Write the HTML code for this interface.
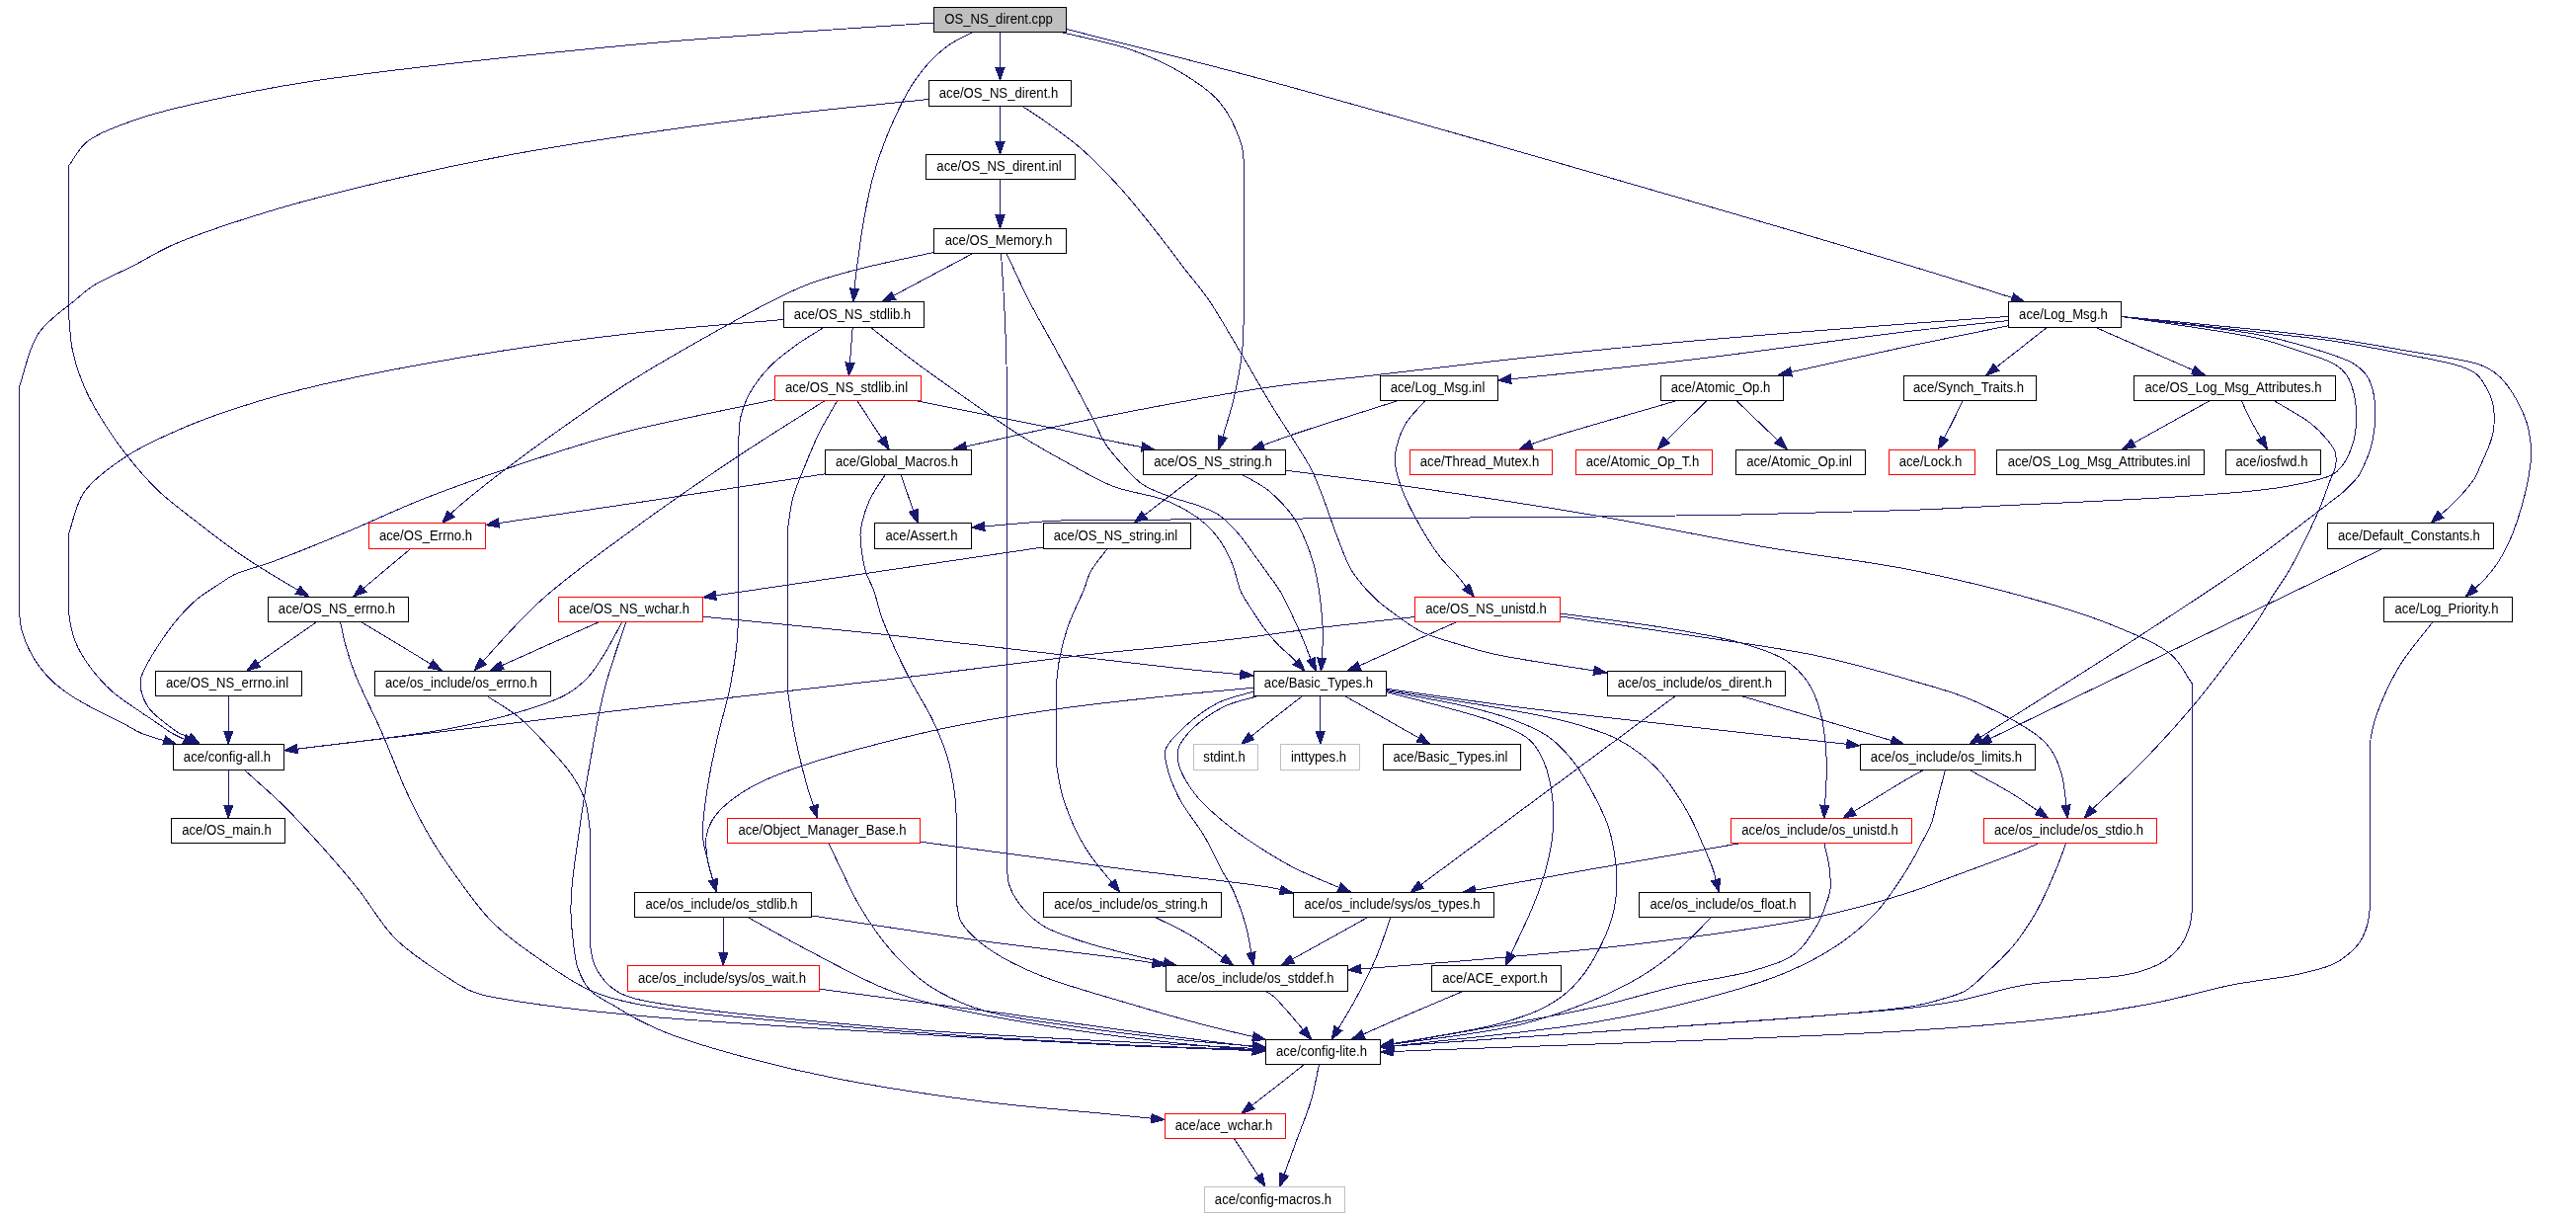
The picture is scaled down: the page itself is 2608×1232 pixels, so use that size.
<!DOCTYPE html><html><head><meta charset="utf-8"><title>OS_NS_dirent.cpp include graph</title><style>html,body{margin:0;padding:0;background:#fff}svg{display:block;will-change:transform}text{font-family:"Liberation Sans",sans-serif;font-size:14.3px;fill:#000;text-anchor:middle}</style></head><body>
<svg width="2608" height="1232" viewBox="0 0 2608 1232">
<rect width="2608" height="1232" fill="#fff"/>
<g fill="none" stroke="#191970" stroke-width="1" shape-rendering="crispEdges">
<path d="M945.0,23.0C844.7,30.3 746.3,35.5 644.0,45.0C537.3,54.9 394.3,70.6 317.5,82.0C275.3,88.3 250.7,93.3 220.0,100.0C192.2,106.1 164.4,111.9 141.0,120.0C121.2,126.9 100.4,133.9 88.0,143.7C79.0,150.8 75.7,159.9 69.5,168.0L69.5,319.0C70.9,331.5 70.9,344.0 73.8,356.5C76.7,369.8 81.8,383.9 87.5,396.5C93.1,408.8 100.4,420.4 107.5,431.5C114.2,442.1 120.7,451.3 128.8,461.5C137.9,473.0 148.5,485.5 160.0,496.5C172.1,508.0 186.6,518.5 200.0,529.0C213.2,539.3 227.0,549.9 240.0,559.0C251.9,567.3 263.0,574.1 275.0,581.5C287.3,589.1 300.3,596.5 313.0,604.0"/>
<path d="M1012.5,32.5L1012.5,81.5"/>
<path d="M985.0,32.5C977.2,36.7 968.8,40.0 961.5,45.0C954.3,50.0 947.7,56.0 941.5,62.5C935.1,69.3 929.0,77.5 924.0,85.0C919.5,91.7 916.5,97.6 912.7,105.0C908.2,113.9 903.4,124.2 899.0,135.0C894.1,147.3 888.9,161.2 885.0,175.0C880.9,189.4 877.7,205.4 875.0,220.0C872.5,233.7 870.7,247.3 869.0,260.0C867.4,271.4 865.8,284.1 865.0,292.5C864.5,297.8 864.3,301.2 864.0,305.5"/>
<path d="M1074.0,32.5C1097.3,38.3 1122.9,42.7 1144.0,50.0C1162.4,56.4 1178.7,63.5 1194.0,72.5C1208.6,81.1 1223.5,90.3 1234.0,102.5C1244.3,114.5 1252.6,133.2 1256.5,145.0C1259.0,152.7 1258.5,158.3 1259.5,165.0L1259.5,304.0C1258.9,320.7 1259.5,337.4 1257.8,354.0C1256.0,370.7 1252.9,387.4 1249.0,404.0C1245.0,421.0 1239.0,438.0 1234.0,455.0"/>
<path d="M1079.8,29.5C1149.2,47.3 1199.7,59.0 1288.0,83.0C1443.9,125.5 1803.4,229.8 1932.0,268.5C1987.2,285.1 2010.7,293.2 2050.0,305.5"/>
<path d="M940.0,100.5C891.3,105.7 843.0,110.1 794.0,116.0C744.3,122.0 692.1,128.9 644.0,136.0C599.3,142.6 556.7,149.3 515.0,157.0C475.5,164.3 438.7,172.0 400.0,181.0C360.1,190.3 317.5,200.5 279.0,212.0C243.1,222.8 202.2,236.2 176.0,247.5C158.9,254.9 148.7,262.0 135.0,269.0C121.4,276.0 104.6,282.7 94.0,289.5C86.5,294.3 83.0,298.0 76.0,304.0C65.7,312.8 48.1,323.8 38.8,337.8C28.8,352.6 25.9,373.6 19.5,391.5L19.4,618.8C20.2,625.0 20.4,631.3 21.9,637.5C23.5,643.8 25.8,650.1 28.8,656.2C31.8,662.6 35.5,669.1 40.0,675.0C44.7,681.2 50.4,687.3 56.2,692.5C62.1,697.7 68.1,701.9 75.0,706.2C82.6,711.1 91.6,715.6 100.0,720.0C108.3,724.4 117.4,728.6 125.0,732.5C131.4,735.8 135.4,739.0 142.5,742.0C152.2,746.1 166.7,749.7 178.8,753.5"/>
<path d="M1012.5,107.5L1012.5,156.5"/>
<path d="M1035.0,107.5C1041.3,111.7 1046.6,114.8 1054.0,120.0C1065.0,127.7 1081.1,138.8 1094.0,150.0C1107.8,161.9 1121.4,176.1 1134.0,190.0C1146.4,203.7 1157.7,218.2 1169.0,232.5C1180.2,246.6 1191.6,262.2 1201.5,275.0C1209.7,285.6 1215.1,290.9 1224.0,304.0C1240.5,328.2 1273.0,387.2 1288.0,411.5C1295.8,424.1 1300.0,430.0 1306.2,440.0C1313.1,451.0 1321.7,463.6 1327.5,475.0C1332.7,485.2 1336.0,494.6 1340.0,505.0C1344.3,516.2 1348.2,528.7 1352.5,540.0C1356.6,550.8 1361.6,564.1 1365.0,571.2C1366.9,575.2 1367.5,576.4 1370.0,580.0C1374.6,586.6 1384.6,598.7 1392.5,606.2C1399.7,613.1 1407.2,618.2 1415.0,623.8C1423.0,629.4 1430.5,635.4 1440.0,640.0C1450.9,645.3 1465.1,648.7 1477.5,652.5C1489.4,656.1 1497.7,658.9 1513.0,662.2C1540.1,668.2 1588.8,674.8 1626.8,681.0"/>
<path d="M1012.5,182.0L1012.5,231.0"/>
<path d="M945.0,255.5C919.7,261.2 891.6,266.6 869.0,272.5C850.5,277.3 834.2,281.8 819.0,287.5C805.8,292.5 798.5,296.0 782.8,304.0C751.2,320.1 681.9,359.1 644.0,382.5C616.6,399.4 598.3,412.6 575.0,429.0C550.4,446.3 521.3,467.5 500.0,484.0C483.6,496.7 466.6,510.4 457.5,519.0C452.8,523.5 450.8,526.3 447.5,530.0"/>
<path d="M985.0,256.5L893.0,305.5"/>
<path d="M1013.5,256.5C1014.5,272.3 1015.6,286.9 1016.5,304.0C1017.5,324.0 1018.5,346.6 1019.0,369.0C1019.5,393.1 1019.3,419.0 1019.5,444.0L1019.5,858.5C1020.2,870.7 1018.5,884.6 1021.5,895.0C1024.0,903.7 1028.5,910.6 1034.0,917.5C1039.9,924.9 1047.5,931.9 1056.5,937.5C1067.0,944.0 1080.5,947.9 1094.0,952.5C1109.3,957.7 1127.5,962.0 1144.0,966.2C1160.0,970.3 1175.7,973.8 1191.5,977.5"/>
<path d="M1019.0,256.5C1026.5,272.3 1033.4,288.1 1041.5,304.0C1050.0,320.6 1059.2,335.9 1069.0,354.0C1080.6,375.3 1097.4,406.5 1106.5,424.0C1111.9,434.4 1114.2,441.5 1119.0,449.0C1123.4,455.9 1128.1,461.2 1133.8,467.5C1140.3,474.8 1147.8,484.1 1156.2,490.0C1164.5,495.7 1174.2,498.8 1183.8,502.5C1193.7,506.3 1206.0,509.0 1215.0,512.5C1222.1,515.3 1227.8,517.2 1233.8,521.2C1240.4,525.7 1246.5,532.1 1252.5,538.8C1259.1,546.1 1265.8,556.3 1271.2,563.8C1275.7,569.7 1279.0,574.4 1283.0,580.0C1287.3,586.0 1292.2,592.1 1296.2,598.8C1300.4,605.8 1303.8,613.5 1307.5,621.2C1311.3,629.3 1315.5,638.5 1318.8,646.2C1321.6,652.9 1323.8,659.2 1326.2,665.0C1328.4,670.1 1330.4,674.6 1332.5,679.4"/>
<path d="M793.2,323.5C743.5,328.0 693.2,331.4 644.0,337.0C595.5,342.5 548.4,348.8 500.0,356.5C450.4,364.4 392.5,374.8 350.0,384.0C318.3,390.8 294.2,396.6 267.5,404.5C241.7,412.1 216.2,420.4 192.5,430.2C170.1,439.6 147.4,449.3 128.8,461.5C112.0,472.4 94.9,484.3 85.0,498.5C76.2,511.0 74.7,526.3 69.5,540.2L69.4,618.8C70.2,624.2 70.6,629.5 71.9,635.0C73.3,640.8 75.0,646.8 77.5,652.5C80.1,658.5 83.8,664.4 87.5,670.0C91.3,675.7 95.5,681.1 100.0,686.2C104.6,691.5 109.3,696.4 115.0,701.2C121.5,706.8 130.3,712.5 137.5,717.5C144.0,722.0 150.1,725.9 156.2,730.0C162.2,734.0 168.2,738.7 173.8,742.0C178.5,744.8 183.1,746.8 187.5,748.8C191.5,750.5 195.2,751.9 199.0,753.5"/>
<path d="M834.0,331.5C824.8,337.3 815.5,342.5 806.5,349.0C797.1,355.8 786.9,363.3 779.0,371.5C771.6,379.2 764.9,387.8 760.0,396.5C755.4,404.5 752.0,413.2 750.0,421.5C748.1,429.1 748.5,436.5 747.8,444.0L747.2,600.0C747.0,615.3 747.8,630.4 746.5,646.0C745.1,662.4 742.3,679.4 739.0,696.0C735.7,712.7 730.3,729.3 726.5,746.0C722.8,762.6 719.0,779.3 716.5,796.0C714.0,812.6 710.8,832.2 711.5,846.0C712.0,855.8 714.4,862.2 716.5,871.0C718.9,881.2 722.5,892.7 725.5,903.5"/>
<path d="M863.2,331.5L859.5,380.5"/>
<path d="M881.5,331.5C896.5,343.2 910.8,354.8 926.5,366.5C943.2,379.0 961.2,391.6 979.0,404.0C997.1,416.6 1016.1,430.3 1034.0,441.5C1050.2,451.7 1065.7,460.4 1081.5,469.0C1096.8,477.4 1111.5,486.4 1127.5,492.5C1143.5,498.6 1163.9,500.6 1177.5,505.6C1187.5,509.2 1195.0,513.0 1202.5,517.5C1209.4,521.6 1215.6,526.0 1221.2,531.2C1226.9,536.4 1232.0,542.6 1236.2,548.8C1240.3,554.7 1243.8,561.8 1246.2,567.5C1248.2,572.0 1249.1,575.4 1250.6,580.0C1252.4,585.6 1253.6,592.7 1256.2,598.8C1259.1,605.2 1263.6,611.3 1267.5,617.5C1271.5,623.8 1275.6,630.3 1280.0,636.2C1284.3,642.0 1288.9,647.5 1293.8,652.5C1298.5,657.4 1304.1,661.6 1308.8,666.2C1313.2,670.6 1317.1,675.0 1321.2,679.4"/>
<path d="M784.5,404.5C737.7,414.5 677.5,426.4 644.0,434.5C625.1,439.1 617.6,441.3 600.0,446.5C573.3,454.5 530.8,468.3 500.0,479.0C473.1,488.3 449.9,496.6 425.0,506.5C399.9,516.5 375.1,528.6 350.0,539.0C325.1,549.4 295.8,561.4 275.0,569.0C260.4,574.3 246.7,577.2 237.5,581.5C231.6,584.3 228.9,586.6 223.8,590.0C216.9,594.5 207.2,600.3 200.0,606.2C193.1,612.0 187.3,618.1 181.2,625.0C174.7,632.5 168.2,641.5 162.5,650.0C157.0,658.2 151.0,668.0 147.5,675.0C145.1,679.8 143.2,683.3 142.5,687.5C141.8,691.6 142.0,695.6 143.1,700.0C144.4,705.5 147.5,712.3 151.2,717.5C155.1,722.8 161.1,727.1 166.2,731.2C171.1,735.2 176.8,739.5 181.2,742.0C184.4,743.8 186.9,744.0 190.0,745.6C193.9,747.6 198.3,750.9 202.5,753.5"/>
<path d="M835.2,405.5C804.8,425.0 774.9,443.4 744.0,464.0C711.2,485.9 676.7,509.5 644.0,533.5C611.2,557.5 575.9,582.3 547.5,608.0C522.0,631.0 502.5,655.3 480.0,679.0"/>
<path d="M847.8,405.5C841.5,416.7 834.6,427.6 829.0,439.0C823.4,450.4 818.5,462.7 814.0,474.0C809.8,484.3 805.6,493.5 802.8,504.0C799.8,515.1 798.9,527.3 797.0,539.0L797.0,696.0C799.3,711.0 801.0,725.5 804.0,741.0C807.3,757.9 812.1,777.8 816.5,793.5C820.1,806.4 824.0,816.8 827.8,828.5"/>
<path d="M867.8,405.5L900.2,455.2"/>
<path d="M926.5,405.5C957.3,411.7 992.9,418.8 1019.0,424.0C1038.2,427.8 1052.4,430.5 1069.0,434.0C1085.7,437.5 1102.3,441.7 1119.0,445.2C1135.6,448.8 1152.3,451.9 1169.0,455.2"/>
<path d="M2033.3,320.4C1999.5,322.8 1972.2,324.6 1932.0,327.7C1872.9,332.2 1781.9,339.0 1713.0,345.2C1651.4,350.8 1594.1,356.7 1538.0,362.8C1486.0,368.4 1433.0,375.1 1388.0,380.2C1351.3,384.5 1325.6,386.1 1288.0,391.5C1238.9,398.6 1173.9,410.7 1119.0,421.5C1066.4,431.8 1016.5,443.7 965.2,454.8"/>
<path d="M2033.3,324.6C1999.5,328.2 1972.2,330.7 1932.0,335.5C1872.9,342.5 1784.1,355.5 1713.0,364.0C1645.8,372.0 1582.0,378.2 1516.5,385.2"/>
<path d="M2033.3,329.8C1999.5,336.7 1967.9,342.9 1932.0,350.5C1891.0,359.2 1844.3,369.8 1800.5,379.5"/>
<path d="M2072.4,331.4L2010.7,380.0"/>
<path d="M2121.5,331.4L2232.5,380.0"/>
<path d="M2147.7,320.4C2193.8,327.8 2254.6,335.3 2286.0,342.5C2302.6,346.3 2310.8,349.4 2323.5,353.8C2337.0,358.3 2355.7,363.7 2364.8,369.4C2370.1,372.8 2373.1,375.8 2376.0,380.0C2379.0,384.3 2380.7,389.6 2382.2,395.0C2383.9,400.8 2384.9,407.7 2385.4,413.8C2385.9,419.3 2385.9,424.4 2385.4,430.0C2384.9,436.0 2384.3,442.3 2382.2,448.8C2379.9,456.2 2375.3,466.4 2371.0,472.0C2367.9,476.0 2365.8,478.2 2361.0,480.8C2352.8,485.1 2336.1,488.1 2323.5,490.8C2311.1,493.3 2301.3,494.7 2286.0,496.4C2262.2,499.1 2229.1,501.3 2194.4,503.5C2149.0,506.4 2084.2,509.1 2037.0,511.4C1998.5,513.3 1972.3,515.0 1932.0,516.5C1877.2,518.5 1806.8,520.3 1738.0,521.5C1659.9,522.9 1566.7,523.4 1488.0,524.0C1417.6,524.6 1347.1,524.8 1288.0,525.2C1240.9,525.6 1199.9,525.9 1161.0,526.2C1127.9,526.6 1099.1,525.9 1069.0,527.2C1040.0,528.6 1012.0,531.8 983.5,534.0"/>
<path d="M2147.7,320.4C2193.8,326.5 2251.5,332.2 2286.0,338.8C2307.0,342.7 2319.8,346.4 2336.0,351.2C2351.7,356.0 2371.0,361.3 2381.6,367.5C2388.2,371.4 2392.5,375.2 2396.0,380.0C2399.2,384.4 2400.8,389.6 2402.2,395.0C2403.8,400.8 2404.4,407.5 2404.8,413.8C2405.1,420.0 2404.8,426.0 2404.1,432.5C2403.3,439.7 2401.8,448.1 2399.8,455.0C2397.9,461.2 2395.0,467.3 2392.9,472.0C2391.3,475.4 2390.7,477.6 2388.5,480.8C2385.2,485.5 2378.9,492.0 2373.5,497.0C2368.1,502.0 2362.7,505.5 2356.0,510.8C2346.8,517.9 2334.7,527.2 2323.5,535.8C2311.5,544.9 2302.3,552.3 2286.0,563.9C2257.0,584.4 2207.4,617.1 2163.0,646.0C2111.2,679.7 2050.1,717.7 1993.7,753.5"/>
<path d="M2147.7,320.4C2193.8,325.7 2246.9,331.7 2286.0,336.2C2314.8,339.6 2336.1,341.3 2361.0,345.0C2386.1,348.8 2412.8,354.1 2436.0,358.8C2456.1,362.8 2479.7,366.8 2492.2,371.2C2499.0,373.7 2502.9,374.9 2507.2,378.8C2512.3,383.2 2516.9,391.7 2519.8,397.5C2522.0,401.9 2523.2,405.3 2524.1,410.0C2525.2,415.8 2525.4,423.8 2525.0,430.0C2524.6,435.4 2523.9,439.4 2522.2,445.0C2519.9,452.8 2514.0,465.0 2511.0,472.0C2509.0,476.6 2508.4,479.2 2506.0,483.2C2502.8,488.6 2496.9,495.5 2492.2,500.8C2488.1,505.4 2484.4,508.9 2479.8,513.2C2474.2,518.4 2467.2,524.1 2461.0,529.5"/>
<path d="M2147.7,320.4C2193.8,324.8 2246.9,329.6 2286.0,333.8C2314.8,336.8 2336.0,339.0 2361.0,342.5C2386.0,346.0 2411.0,350.5 2436.0,355.0C2461.0,359.5 2495.0,363.5 2511.0,369.4C2519.2,372.4 2523.2,375.0 2528.5,379.4C2534.2,384.2 2538.9,390.3 2543.5,397.5C2549.1,406.2 2555.6,419.9 2558.5,428.8C2560.5,434.9 2560.9,439.9 2561.6,445.0C2562.3,449.4 2562.9,453.2 2562.9,457.5C2562.9,462.2 2562.3,466.9 2561.6,472.0C2560.9,477.9 2560.0,483.9 2558.5,490.8C2556.7,499.4 2553.9,510.1 2551.0,519.5C2548.1,528.8 2544.8,538.5 2541.0,547.0C2537.6,554.7 2533.9,561.8 2529.8,568.2C2525.9,574.2 2522.2,579.0 2517.2,584.5C2511.3,591.1 2503.1,597.8 2496.0,604.5"/>
<path d="M1415.5,405.5C1379.7,417.1 1335.4,430.8 1308.0,440.2C1290.9,446.1 1280.3,450.3 1266.5,455.4"/>
<path d="M1443.0,405.5C1436.3,413.3 1427.9,420.8 1423.0,429.0C1418.7,436.2 1416.0,444.7 1414.2,451.5C1412.9,456.9 1412.0,460.9 1412.2,466.5C1412.6,473.8 1415.0,482.8 1418.0,491.5C1421.5,501.8 1426.9,512.8 1433.0,524.0C1439.9,536.9 1450.3,553.9 1458.0,564.0C1463.3,570.9 1467.8,574.0 1473.0,580.0C1479.2,587.2 1486.0,596.3 1492.5,604.4"/>
<path d="M1698.0,405.5C1653.0,418.8 1590.0,436.2 1563.0,445.2C1551.2,449.2 1546.3,451.6 1538.0,454.8"/>
<path d="M1728.0,405.5L1678.0,454.8"/>
<path d="M1758.0,405.5L1809.2,454.8"/>
<path d="M1987.1,405.4C1983.6,412.7 1980.5,419.7 1976.6,427.4C1972.2,436.1 1967.0,445.8 1962.2,455.0"/>
<path d="M2237.7,405.4L2148.5,455.0"/>
<path d="M2269.2,405.4C2272.3,411.9 2274.7,417.7 2278.4,424.8C2283.1,433.8 2289.8,444.9 2295.5,455.0"/>
<path d="M2302.2,405.6C2314.8,413.3 2330.2,421.2 2339.8,428.8C2346.7,434.2 2351.7,439.7 2356.0,445.0C2359.4,449.3 2362.7,453.0 2364.1,457.5C2365.5,462.0 2365.3,467.4 2364.5,472.0C2363.8,476.4 2361.7,479.4 2359.8,484.5C2356.8,492.3 2352.5,504.8 2348.5,514.5C2344.6,523.9 2340.7,532.3 2336.0,542.0C2330.5,553.3 2323.8,567.0 2317.2,578.2C2311.2,588.5 2303.7,598.6 2298.5,607.0C2294.6,613.4 2292.3,618.0 2288.5,624.0C2284.0,630.9 2279.9,636.7 2273.1,646.0C2260.9,662.6 2238.6,692.8 2220.7,714.2C2203.6,734.6 2186.0,753.8 2168.2,772.0C2151.0,789.6 2124.3,812.8 2115.7,821.8C2112.7,825.0 2111.9,826.3 2110.0,828.5"/>
<path d="M835.2,479.8C771.5,489.5 704.1,500.0 644.0,509.0C590.4,517.1 542.5,524.0 491.8,531.5"/>
<path d="M896.5,480.2C891.5,488.2 885.5,495.7 881.5,504.0C877.6,512.0 874.4,522.0 872.8,529.0C871.6,533.8 871.0,536.2 871.0,541.5C871.0,550.7 873.6,569.1 876.5,579.0C878.5,585.9 881.5,589.3 884.0,596.0C887.4,605.0 889.4,616.4 894.0,628.5C900.1,644.6 910.3,666.3 919.0,683.5C927.0,699.4 937.1,714.0 944.0,728.5C950.1,741.4 955.2,753.3 959.0,766.0C962.7,778.3 964.8,790.5 966.5,803.5C968.3,817.2 968.2,831.8 969.0,846.0L968.5,915.0C969.9,920.8 969.9,926.9 972.8,932.5C976.1,939.1 982.6,945.5 989.0,951.2C996.1,957.7 1004.3,963.1 1014.0,968.8C1026.0,975.7 1039.5,982.1 1056.5,988.8C1080.2,998.0 1115.9,1007.9 1144.0,1016.2C1169.9,1024.0 1195.1,1031.2 1219.0,1037.5C1240.7,1043.2 1260.7,1047.5 1281.5,1052.5"/>
<path d="M912.0,480.2L929.0,529.5"/>
<path d="M1212.5,480.4L1148.1,529.4"/>
<path d="M1257.5,480.4C1266.2,485.7 1275.5,489.6 1283.8,496.2C1292.7,503.4 1302.3,513.5 1308.8,522.5C1314.3,530.2 1317.7,538.1 1321.2,546.2C1324.8,554.3 1327.6,562.6 1330.0,571.2C1332.4,580.1 1334.2,590.0 1335.6,598.8C1336.8,606.6 1337.5,613.8 1338.1,621.2C1338.7,628.4 1339.4,634.4 1339.4,642.5C1339.5,653.1 1338.1,667.1 1337.5,679.4"/>
<path d="M1301.6,476.2C1338.4,481.0 1369.8,484.6 1412.0,490.6C1469.1,498.7 1548.4,510.5 1613.0,521.5C1673.4,531.8 1732.4,544.5 1788.0,554.0C1838.3,562.6 1885.3,567.2 1932.0,576.4C1976.9,585.3 2025.2,597.0 2063.2,607.9C2093.0,616.4 2118.2,624.3 2141.9,634.2C2162.6,642.9 2185.0,651.5 2198.4,663.0C2208.4,671.6 2212.3,682.3 2219.3,691.9L2219.9,917.0C2218.8,924.0 2218.7,931.3 2216.7,938.0C2214.6,944.8 2211.4,952.0 2207.5,957.6C2203.9,962.8 2199.6,967.0 2194.4,970.8C2188.5,975.1 2180.8,978.6 2173.4,981.3C2165.9,984.1 2160.5,985.4 2149.8,987.3C2128.1,991.1 2079.7,992.0 2050.1,997.0C2025.8,1001.1 2005.2,1008.7 1984.5,1012.7C1966.1,1016.3 1958.7,1017.6 1932.0,1020.6C1847.1,1030.1 1575.7,1046.9 1397.5,1060.0"/>
<path d="M416.2,555.2L357.5,604.2"/>
<path d="M1056.0,554.0C961.2,568.0 831.2,587.2 771.5,596.0C744.1,600.0 731.5,601.8 711.5,604.8"/>
<path d="M1121.2,555.2C1115.5,563.2 1108.0,571.5 1104.0,579.0C1100.8,584.9 1100.4,589.3 1097.8,596.0C1093.7,606.1 1085.8,621.3 1081.5,633.5C1077.6,644.6 1074.8,655.3 1072.8,666.0C1070.8,676.1 1070.2,686.0 1069.0,696.0L1069.0,771.0C1071.5,783.5 1072.3,795.4 1076.5,808.5C1081.5,824.2 1089.5,842.8 1099.0,858.5C1108.6,874.5 1122.3,888.5 1134.0,903.5"/>
<path d="M2412.2,555.5L2002.9,753.5"/>
<path d="M321.2,629.2L250.0,679.0"/>
<path d="M344.5,629.2C346.3,637.3 347.6,645.0 350.0,653.5C352.7,663.0 355.4,671.9 360.0,683.5C366.6,700.2 378.7,723.4 387.5,743.5C396.2,763.4 403.7,784.8 412.5,803.5C420.5,820.4 428.0,835.3 437.5,851.0C447.5,867.5 460.1,885.2 471.2,900.0C480.9,912.9 487.9,923.4 500.0,935.0C515.2,949.7 539.7,966.8 557.5,978.8C571.7,988.4 583.3,996.3 597.5,1002.5C612.0,1008.9 622.1,1011.9 644.0,1016.2C694.0,1026.2 810.6,1035.5 894.0,1042.5C977.3,1049.4 1073.0,1054.5 1144.0,1058.0C1196.6,1060.6 1235.7,1061.3 1281.5,1063.0"/>
<path d="M365.0,629.2L447.5,679.0"/>
<path d="M607.5,629.2L496.2,679.0"/>
<path d="M630.0,629.2C624.2,639.8 618.6,651.2 612.5,661.0C606.9,670.0 601.8,678.8 595.0,686.0C588.4,692.9 581.9,698.3 572.5,703.5C560.0,710.4 542.8,715.7 525.0,721.0C503.0,727.6 479.9,733.1 450.0,738.5C406.4,746.4 341.8,752.7 287.8,759.8"/>
<path d="M633.8,629.2C626.7,651.5 618.5,672.9 612.5,696.0C606.3,720.1 601.8,747.1 597.5,771.0C593.6,792.7 590.6,812.3 587.5,833.5C584.3,855.3 580.1,883.1 578.8,900.0C577.9,910.3 577.8,916.7 578.0,925.0C578.2,933.3 578.9,941.3 580.0,950.0C581.2,959.6 581.8,971.0 585.0,980.0C587.9,988.3 591.5,996.1 597.5,1002.5C604.3,1009.7 616.6,1014.9 625.0,1020.0C631.9,1024.2 636.7,1027.4 644.0,1031.2C653.3,1036.1 663.5,1041.2 676.5,1046.2C694.8,1053.3 719.2,1060.6 744.0,1067.5C773.9,1075.8 807.1,1084.0 844.0,1091.2C888.8,1100.1 946.2,1108.8 994.0,1115.0C1037.5,1120.6 1084.9,1124.1 1119.0,1127.5C1142.6,1129.9 1159.0,1131.5 1179.0,1133.5"/>
<path d="M711.5,624.2C772.3,630.2 833.8,635.8 894.0,642.2C953.0,648.5 1016.0,656.2 1069.0,662.2C1113.0,667.3 1153.9,672.4 1190.0,676.2C1219.1,679.4 1242.7,681.4 1269.0,684.0"/>
<path d="M1432.5,624.5C1401.7,628.0 1369.2,631.4 1340.0,635.0C1313.7,638.2 1290.0,641.9 1265.0,645.0C1240.0,648.1 1216.6,650.9 1190.0,653.8C1160.0,657.0 1131.8,659.2 1094.0,663.5C1039.4,669.7 964.4,680.1 894.0,688.5C815.3,697.9 734.7,706.6 644.0,717.2C535.7,729.9 406.5,745.6 287.8,759.8"/>
<path d="M1475.0,629.5L1364.0,679.4"/>
<path d="M1579.8,621.0C1615.8,626.0 1655.3,630.5 1688.0,636.0C1715.4,640.6 1741.4,644.7 1763.0,651.0C1780.2,656.0 1796.2,660.8 1808.0,668.5C1817.6,674.8 1824.7,682.3 1830.5,691.0C1836.4,699.8 1839.9,709.5 1843.0,721.0C1846.8,735.3 1848.6,753.7 1849.2,771.0C1850.0,789.5 1847.6,809.3 1846.8,828.5"/>
<path d="M1579.8,624.0C1624.2,630.5 1669.3,636.8 1713.0,643.5C1755.4,650.0 1799.5,655.4 1838.0,663.5C1871.7,670.6 1903.3,679.6 1932.0,688.0C1956.7,695.2 1977.8,700.2 2000.2,710.3C2024.2,721.2 2056.9,737.2 2071.1,752.2C2080.2,761.8 2083.1,770.9 2086.8,782.4C2091.1,795.8 2091.2,813.1 2093.4,828.5"/>
<path d="M2463.4,629.2C2452.5,643.5 2439.8,657.5 2430.6,672.2C2422.1,685.9 2414.8,701.0 2409.6,714.2C2405.3,725.2 2402.1,735.9 2400.4,745.7C2399.0,754.0 2399.5,761.4 2399.1,769.3L2399.6,917.0C2398.7,923.1 2398.6,929.4 2397.0,935.3C2395.4,941.2 2393.1,947.3 2389.9,952.4C2386.8,957.4 2382.6,961.6 2378.1,965.5C2373.5,969.5 2369.0,972.9 2362.4,976.0C2353.0,980.4 2339.7,983.4 2325.6,986.5C2307.0,990.6 2282.8,992.5 2260.0,997.0C2234.9,1001.9 2208.6,1010.1 2181.3,1015.4C2152.0,1021.1 2124.3,1025.6 2089.5,1029.8C2044.1,1035.3 2000.1,1039.2 1932.0,1043.5C1806.7,1051.5 1575.7,1057.8 1397.5,1065.0"/>
<path d="M231.2,704.5L231.2,753.5"/>
<path d="M492.5,704.2C503.3,711.5 514.8,717.6 525.0,726.0C535.7,734.8 545.7,745.8 555.0,756.0C564.0,765.8 573.5,776.1 580.0,786.0C585.5,794.4 589.6,802.1 592.5,811.0C595.5,820.3 595.8,831.0 597.5,841.0L597.5,957.5C598.8,963.3 599.3,969.6 601.2,975.0C603.1,980.0 605.4,984.4 608.8,988.8C612.6,993.8 618.0,999.3 623.8,1003.0C629.7,1006.8 633.2,1008.5 644.0,1011.2C680.7,1020.6 801.4,1032.1 894.0,1040.0C1008.9,1049.9 1152.3,1054.7 1281.5,1062.0"/>
<path d="M1269.4,696.2C1242.9,698.8 1219.2,700.6 1190.0,703.8C1153.9,707.6 1109.6,712.1 1069.0,718.0C1027.6,724.0 987.0,730.1 944.0,739.8C897.2,750.2 833.8,766.8 799.0,779.8C778.4,787.4 764.7,793.6 751.5,802.2C740.5,809.4 730.1,817.7 724.0,826.0C719.3,832.4 716.6,838.8 715.2,846.0C713.8,853.7 715.1,862.2 716.5,871.0C718.1,881.2 722.5,892.7 725.5,903.5"/>
<path d="M1269.4,700.0C1257.5,703.8 1245.1,705.6 1233.8,711.2C1221.6,717.3 1208.4,727.3 1199.0,736.0C1191.2,743.2 1182.7,751.0 1180.2,758.5C1178.4,764.3 1180.0,769.4 1181.5,776.0C1183.6,785.3 1188.4,797.6 1194.0,808.5C1200.4,820.9 1211.7,833.6 1219.0,846.0C1225.7,857.4 1231.1,869.9 1236.5,880.0C1240.9,888.3 1245.2,894.0 1249.0,902.5C1253.6,912.7 1258.2,925.3 1261.5,937.5C1265.0,950.3 1266.5,964.2 1269.0,977.5"/>
<path d="M1271.9,705.0C1261.3,708.3 1250.4,709.9 1240.0,715.0C1228.5,720.7 1214.7,730.2 1206.5,738.5C1200.2,744.9 1194.6,751.7 1192.8,758.5C1191.2,764.3 1192.0,769.6 1194.0,776.0C1196.8,785.0 1203.9,796.5 1211.5,806.0C1220.1,816.7 1232.0,826.4 1244.0,836.0C1257.2,846.5 1275.2,858.1 1288.0,866.0C1297.4,871.8 1302.9,875.0 1313.0,880.0C1327.6,887.2 1349.7,895.7 1368.0,903.5"/>
<path d="M1318.8,704.4C1308.5,712.4 1298.3,720.4 1288.0,728.5C1277.6,736.7 1267.0,745.2 1256.5,753.5"/>
<path d="M1336.8,704.4L1336.8,753.5"/>
<path d="M1361.2,704.4L1448.0,753.5"/>
<path d="M1403.5,697.2C1448.3,703.5 1490.2,709.9 1538.0,716.0C1592.5,722.9 1655.1,729.5 1713.0,736.0C1770.1,742.4 1826.3,748.5 1883.0,754.8"/>
<path d="M1403.5,698.5C1440.0,704.3 1480.0,710.1 1513.0,716.0C1540.4,720.9 1565.7,724.9 1588.0,731.0C1606.5,736.1 1623.1,740.6 1638.0,748.5C1652.0,755.9 1664.2,764.7 1675.5,776.0C1687.8,788.4 1699.4,806.3 1708.0,821.0C1715.5,833.7 1720.8,847.7 1725.5,858.5C1729.0,866.6 1731.8,872.6 1734.2,880.0C1736.8,887.6 1738.4,895.7 1740.5,903.5"/>
<path d="M1403.5,699.5C1431.7,705.0 1463.6,710.0 1488.0,716.0C1507.0,720.7 1523.7,725.3 1538.0,731.0C1549.5,735.6 1558.9,739.5 1568.0,746.0C1577.3,752.7 1585.6,761.6 1593.0,771.0C1600.7,780.7 1607.1,792.5 1613.0,803.5C1618.7,814.2 1624.2,824.8 1628.0,836.0C1631.8,847.2 1634.1,859.8 1635.5,871.0C1636.8,881.1 1637.3,890.3 1636.8,900.0C1636.1,909.9 1634.7,920.0 1631.8,930.0C1628.6,940.8 1623.3,952.3 1618.0,962.5C1612.9,972.3 1606.8,982.2 1600.5,990.0C1595.0,996.8 1589.7,1002.3 1583.0,1007.5C1575.7,1013.2 1567.8,1018.0 1558.0,1022.5C1545.4,1028.3 1531.7,1032.7 1513.0,1037.5C1483.6,1045.1 1436.0,1051.7 1397.5,1058.8"/>
<path d="M1403.5,700.5C1423.3,705.7 1444.1,710.7 1463.0,716.0C1480.4,720.9 1498.0,725.1 1513.0,731.0C1525.9,736.1 1539.4,740.9 1548.0,748.5C1555.1,754.8 1559.2,762.1 1563.0,771.0C1567.6,781.6 1570.3,795.9 1571.8,808.5C1573.2,820.9 1572.9,834.0 1571.8,846.0C1570.7,857.3 1568.4,867.5 1565.5,878.5C1562.3,890.4 1558.5,901.4 1553.0,915.0C1545.7,933.2 1533.8,956.7 1524.2,977.5"/>
<path d="M1696.8,704.2L1428.0,903.5"/>
<path d="M1761.8,704.2L1928.0,753.5"/>
<path d="M231.2,779.5L231.2,828.5"/>
<path d="M247.5,779.5C260.8,791.7 274.6,803.3 287.5,816.0C300.5,828.8 312.7,842.2 325.0,856.0C337.7,870.2 350.2,884.7 362.5,900.0C375.3,915.9 385.4,935.4 400.0,950.0C414.6,964.6 435.2,977.8 450.0,987.5C461.0,994.7 468.6,1000.2 480.0,1004.5C493.1,1009.4 506.3,1010.7 525.0,1013.8C555.1,1018.6 597.0,1023.6 644.0,1028.0C712.0,1034.4 810.7,1039.9 894.0,1045.0C977.3,1050.1 1073.0,1055.4 1144.0,1058.8C1196.6,1061.2 1235.7,1062.2 1281.5,1064.0"/>
<path d="M1947.7,779.3C1942.5,782.2 1939.0,783.9 1932.0,788.0C1917.4,796.5 1887.7,815.0 1865.5,828.5"/>
<path d="M1993.7,779.3C2008.1,787.3 2023.3,795.0 2037.0,803.4C2050.0,811.4 2061.7,820.1 2074.0,828.5"/>
<path d="M1969.5,779.3C1966.6,790.2 1963.4,802.3 1960.9,812.0C1958.9,819.8 1958.1,826.1 1955.6,833.0C1952.9,840.1 1948.9,846.8 1945.1,854.0C1941.0,861.8 1937.6,869.0 1932.0,878.0C1924.0,890.8 1912.3,909.4 1900.5,922.5C1889.2,935.0 1877.0,945.3 1863.0,955.0C1848.0,965.4 1831.8,974.3 1813.0,982.5C1790.9,992.2 1766.4,999.7 1738.0,1007.5C1701.9,1017.5 1660.5,1027.0 1613.0,1035.0C1551.1,1045.4 1469.3,1052.0 1397.5,1060.5"/>
<path d="M931.8,852.2C1000.8,861.5 1075.6,871.8 1139.0,880.0C1192.7,887.0 1260.9,893.6 1288.0,898.8C1298.4,900.7 1302.2,902.4 1309.2,904.2"/>
<path d="M839.0,853.5C843.2,862.3 846.9,870.6 851.5,880.0C856.8,890.9 862.2,903.3 869.0,915.0C876.3,927.5 885.2,941.3 894.0,952.5C902.0,962.7 910.3,971.9 919.0,980.0C927.0,987.6 933.8,993.7 944.0,1000.0C957.4,1008.2 974.0,1016.4 994.0,1022.5C1021.2,1030.9 1060.6,1035.0 1094.0,1040.0C1127.3,1045.0 1161.7,1049.1 1194.0,1052.5C1224.1,1055.7 1252.3,1057.5 1281.5,1060.0"/>
<path d="M1763.0,853.5C1712.2,862.3 1659.3,871.4 1610.5,880.0C1565.4,888.0 1523.8,895.7 1480.5,903.5"/>
<path d="M1846.8,853.5C1848.4,861.0 1850.7,868.3 1851.8,876.0C1852.8,883.8 1853.6,893.8 1853.0,900.0C1852.6,904.1 1851.8,906.0 1850.5,910.0C1848.4,916.5 1845.2,926.6 1840.5,935.0C1834.9,944.9 1828.0,957.2 1818.0,965.0C1806.9,973.6 1791.9,977.5 1775.5,982.5C1754.3,988.9 1726.4,991.6 1700.5,997.5C1672.4,1003.9 1648.8,1012.1 1613.0,1020.0C1557.3,1032.3 1469.3,1046.3 1397.5,1059.5"/>
<path d="M2064.5,853.5C2057.9,856.3 2053.5,858.4 2044.8,861.9C2028.2,868.6 1992.1,881.7 1971.4,889.4C1956.3,895.0 1948.1,898.7 1932.0,903.8C1907.5,911.5 1874.4,921.2 1838.0,928.8C1788.9,938.9 1719.2,948.0 1663.0,955.0C1611.2,961.5 1562.9,965.5 1513.0,970.0C1463.4,974.5 1414.0,978.0 1364.5,982.0"/>
<path d="M2091.6,853.5C2088.3,862.4 2085.8,870.3 2081.6,880.2C2076.1,893.3 2068.4,911.2 2060.6,924.8C2053.4,937.3 2045.6,948.7 2037.0,959.0C2028.9,968.7 2019.1,977.5 2010.7,985.2C2003.4,991.9 1997.3,998.6 1989.7,1003.0C1982.4,1007.2 1974.8,1008.9 1966.1,1011.4C1955.9,1014.4 1950.3,1016.5 1932.0,1019.3C1860.3,1030.3 1575.7,1046.4 1397.5,1060.0"/>
<path d="M732.2,928.5L732.2,977.5"/>
<path d="M756.5,928.2C777.3,939.7 797.1,951.0 819.0,962.5C842.8,974.9 871.2,990.7 894.0,1000.0C912.0,1007.4 923.4,1011.0 944.0,1016.2C976.1,1024.5 1027.2,1033.3 1069.0,1040.0C1110.6,1046.6 1156.0,1052.2 1194.0,1056.2C1225.7,1059.7 1252.3,1061.2 1281.5,1063.8"/>
<path d="M821.8,927.0C879.2,935.5 938.5,944.9 994.0,952.5C1045.7,959.6 1111.1,966.6 1144.0,971.2C1160.2,973.6 1168.2,975.1 1180.2,977.0"/>
<path d="M1169.0,928.2C1181.5,934.7 1193.9,939.9 1206.5,947.5C1220.5,956.0 1234.8,967.5 1249.0,977.5"/>
<path d="M1385.5,928.2L1296.8,977.5"/>
<path d="M1408.0,928.2C1403.0,942.2 1399.0,956.0 1393.0,970.0C1386.6,984.9 1378.3,1000.8 1370.5,1015.0C1363.2,1028.2 1355.5,1040.0 1348.0,1052.5"/>
<path d="M1733.0,928.2C1722.2,938.8 1712.1,950.2 1700.5,960.0C1688.8,969.9 1676.8,979.1 1663.0,987.5C1647.9,996.7 1631.7,1004.8 1613.0,1012.5C1590.8,1021.7 1567.2,1030.4 1538.0,1037.5C1498.8,1047.0 1444.3,1051.8 1397.5,1059.0"/>
<path d="M829.5,1001.2C892.7,1009.6 962.4,1018.6 1019.0,1026.2C1065.0,1032.5 1101.3,1038.0 1144.0,1043.8C1188.7,1049.7 1235.7,1055.4 1281.5,1061.2"/>
<path d="M1280.0,1003.2C1282.7,1004.7 1284.6,1004.9 1288.0,1007.5C1296.7,1014.3 1314.7,1037.5 1328.0,1052.5"/>
<path d="M1481.8,1003.2C1458.8,1013.0 1433.5,1023.6 1413.0,1032.5C1396.4,1039.7 1383.0,1045.8 1368.0,1052.5"/>
<path d="M1320.5,1077.5C1313.7,1082.9 1308.1,1087.4 1300.0,1093.8C1288.3,1102.9 1271.3,1116.1 1257.0,1127.2"/>
<path d="M1335.5,1077.5C1332.8,1089.6 1331.1,1101.4 1327.5,1113.8C1323.6,1127.2 1317.6,1140.8 1312.5,1155.0C1307.0,1170.0 1301.2,1186.0 1295.6,1201.5"/>
<path d="M1249.4,1152.5C1253.8,1159.2 1257.8,1165.2 1262.5,1172.5C1268.2,1181.3 1275.0,1191.8 1281.2,1201.5"/>
</g><g fill="#191970" stroke="#191970" stroke-width="1" shape-rendering="crispEdges">
<polygon points="313.0,604.0 299.2,601.2 303.9,593.3"/>
<polygon points="1012.5,81.5 1007.9,68.2 1017.1,68.2"/>
<polygon points="864.0,305.5 860.4,291.9 869.6,292.6"/>
<polygon points="1234.0,455.0 1233.3,440.9 1242.2,443.5"/>
<polygon points="2050.0,305.5 2035.9,305.9 2038.7,297.1"/>
<polygon points="178.8,753.5 164.7,753.9 167.5,745.1"/>
<polygon points="1012.5,156.5 1007.9,143.2 1017.1,143.2"/>
<polygon points="1626.8,681.0 1612.9,683.4 1614.4,674.3"/>
<polygon points="1012.5,231.0 1007.9,217.7 1017.1,217.7"/>
<polygon points="447.5,530.0 453.0,517.1 459.9,523.3"/>
<polygon points="893.0,305.5 902.6,295.2 906.9,303.3"/>
<polygon points="1191.5,977.5 1177.5,978.9 1179.6,970.0"/>
<polygon points="1332.5,679.4 1323.0,669.0 1331.4,665.4"/>
<polygon points="199.0,753.5 185.0,752.6 188.5,744.1"/>
<polygon points="725.5,903.5 717.5,891.9 726.4,889.5"/>
<polygon points="859.5,380.5 855.9,366.9 865.1,367.6"/>
<polygon points="1321.2,679.4 1308.8,672.9 1315.4,666.6"/>
<polygon points="202.5,753.5 188.8,750.3 193.7,742.5"/>
<polygon points="480.0,679.0 485.8,666.2 492.5,672.5"/>
<polygon points="827.8,828.5 819.3,817.2 828.1,814.4"/>
<polygon points="900.2,455.2 889.1,446.6 896.8,441.6"/>
<polygon points="1169.0,455.2 1155.1,457.2 1156.9,448.1"/>
<polygon points="965.2,454.8 977.3,447.4 979.2,456.4"/>
<polygon points="1516.5,385.2 1529.2,379.2 1530.2,388.4"/>
<polygon points="1800.5,379.5 1812.5,372.1 1814.5,381.1"/>
<polygon points="2010.7,380.0 2018.3,368.2 2024.0,375.4"/>
<polygon points="2232.5,380.0 2218.5,378.9 2222.2,370.5"/>
<polygon points="983.5,534.0 996.4,528.4 997.1,537.5"/>
<polygon points="1993.7,753.5 2002.5,742.5 2007.4,750.3"/>
<polygon points="2461.0,529.5 2468.0,517.3 2474.1,524.3"/>
<polygon points="2496.0,604.5 2502.5,592.0 2508.8,598.7"/>
<polygon points="1266.5,455.4 1277.4,446.5 1280.6,455.2"/>
<polygon points="1492.5,604.4 1480.6,596.9 1487.8,591.1"/>
<polygon points="1538.0,454.8 1548.8,445.7 1552.1,454.3"/>
<polygon points="1678.0,454.8 1684.2,442.1 1690.7,448.7"/>
<polygon points="1809.2,454.8 1796.5,448.9 1802.8,442.2"/>
<polygon points="1962.2,455.0 1964.3,441.1 1972.4,445.3"/>
<polygon points="2148.5,455.0 2157.9,444.5 2162.4,452.6"/>
<polygon points="2295.5,455.0 2284.9,445.7 2292.9,441.2"/>
<polygon points="2110.0,828.5 2115.6,815.6 2122.4,821.8"/>
<polygon points="491.8,531.5 504.2,525.0 505.6,534.1"/>
<polygon points="1281.5,1052.5 1267.5,1053.9 1269.6,1044.9"/>
<polygon points="929.0,529.5 920.3,518.4 929.0,515.4"/>
<polygon points="1148.1,529.4 1155.9,517.7 1161.5,525.0"/>
<polygon points="1337.5,679.4 1333.6,665.9 1342.8,666.4"/>
<polygon points="1397.5,1060.0 1410.4,1054.4 1411.1,1063.6"/>
<polygon points="357.5,604.2 364.8,592.2 370.7,599.3"/>
<polygon points="711.5,604.8 724.0,598.3 725.3,607.4"/>
<polygon points="1134.0,903.5 1122.2,895.8 1129.5,890.2"/>
<polygon points="2002.9,753.5 2012.9,743.6 2016.9,751.8"/>
<polygon points="250.0,679.0 258.3,667.6 263.5,675.2"/>
<polygon points="1281.5,1063.0 1268.0,1067.1 1268.4,1057.9"/>
<polygon points="447.5,679.0 433.7,676.1 438.5,668.2"/>
<polygon points="496.2,679.0 506.5,669.4 510.3,677.8"/>
<polygon points="287.8,759.8 300.3,753.5 301.5,762.6"/>
<polygon points="1179.0,1133.5 1165.3,1136.8 1166.2,1127.6"/>
<polygon points="1269.0,684.0 1255.3,687.3 1256.2,678.1"/>
<polygon points="287.8,759.8 300.4,753.6 301.5,762.7"/>
<polygon points="1364.0,679.4 1374.2,669.8 1378.0,678.1"/>
<polygon points="1846.8,828.5 1842.7,815.0 1851.9,815.4"/>
<polygon points="2093.4,828.5 2087.0,816.0 2096.1,814.7"/>
<polygon points="1397.5,1065.0 1410.6,1059.9 1411.0,1069.1"/>
<polygon points="231.2,753.5 226.7,740.2 235.8,740.2"/>
<polygon points="1281.5,1062.0 1268.0,1065.8 1268.5,1056.7"/>
<polygon points="725.5,903.5 717.5,891.9 726.4,889.5"/>
<polygon points="1269.0,977.5 1262.0,965.3 1271.1,963.6"/>
<polygon points="1368.0,903.5 1354.0,902.5 1357.6,894.0"/>
<polygon points="1256.5,753.5 1264.1,741.6 1269.8,748.8"/>
<polygon points="1336.8,753.5 1332.2,740.2 1341.3,740.2"/>
<polygon points="1448.0,753.5 1434.2,751.0 1438.7,742.9"/>
<polygon points="1883.0,754.8 1869.3,757.9 1870.3,748.7"/>
<polygon points="1740.5,903.5 1732.6,891.8 1741.5,889.5"/>
<polygon points="1397.5,1058.8 1409.7,1051.8 1411.4,1060.9"/>
<polygon points="1524.2,977.5 1525.6,963.5 1534.0,967.3"/>
<polygon points="1428.0,903.5 1435.9,891.9 1441.4,899.3"/>
<polygon points="1928.0,753.5 1913.9,754.1 1916.6,745.3"/>
<polygon points="231.2,828.5 226.7,815.2 235.8,815.2"/>
<polygon points="1281.5,1064.0 1268.0,1068.1 1268.4,1058.9"/>
<polygon points="1865.5,828.5 1874.5,817.7 1879.3,825.5"/>
<polygon points="2074.0,828.5 2060.4,824.8 2065.6,817.2"/>
<polygon points="1397.5,1060.5 1410.2,1054.4 1411.2,1063.5"/>
<polygon points="1309.2,904.2 1295.2,905.4 1297.5,896.5"/>
<polygon points="1281.5,1060.0 1267.9,1063.4 1268.6,1054.3"/>
<polygon points="1480.5,903.5 1492.8,896.6 1494.4,905.7"/>
<polygon points="1397.5,1059.5 1409.8,1052.6 1411.4,1061.6"/>
<polygon points="1364.5,982.0 1377.4,976.3 1378.1,985.5"/>
<polygon points="1397.5,1060.0 1410.4,1054.4 1411.1,1063.6"/>
<polygon points="732.2,977.5 727.6,964.2 736.9,964.2"/>
<polygon points="1281.5,1063.8 1267.9,1067.2 1268.6,1058.0"/>
<polygon points="1180.2,977.0 1166.4,979.5 1167.8,970.4"/>
<polygon points="1249.0,977.5 1235.5,973.6 1240.8,966.1"/>
<polygon points="1296.8,977.5 1306.1,967.0 1310.6,975.1"/>
<polygon points="1348.0,1052.5 1350.9,1038.7 1358.8,1043.5"/>
<polygon points="1397.5,1059.0 1410.0,1052.4 1411.3,1061.5"/>
<polygon points="1281.5,1061.2 1267.7,1064.1 1268.9,1055.0"/>
<polygon points="1328.0,1052.5 1315.7,1045.6 1322.6,1039.5"/>
<polygon points="1368.0,1052.5 1378.3,1042.9 1382.0,1051.3"/>
<polygon points="1257.0,1127.2 1264.7,1115.4 1270.3,1122.7"/>
<polygon points="1295.6,1201.5 1295.8,1187.4 1304.5,1190.6"/>
<polygon points="1281.2,1201.5 1270.2,1192.8 1277.9,1187.8"/>
</g><g shape-rendering="crispEdges" stroke-width="1">
<rect x="945.5" y="7.5" width="134" height="25" fill="#bfbfbf" stroke="#000"/>
<rect x="940.5" y="81.5" width="144" height="26" fill="#fff" stroke="#000"/>
<rect x="937.5" y="156.5" width="151" height="25" fill="#fff" stroke="#000"/>
<rect x="945.5" y="231.5" width="134" height="25" fill="#fff" stroke="#000"/>
<rect x="793.5" y="305.5" width="142" height="26" fill="#fff" stroke="#000"/>
<rect x="2033.5" y="305.5" width="114" height="26" fill="#fff" stroke="#000"/>
<rect x="784.5" y="380.5" width="148" height="25" fill="#fff" stroke="#ff0000"/>
<rect x="1397.5" y="380.5" width="119" height="25" fill="#fff" stroke="#000"/>
<rect x="1681.5" y="380.5" width="124" height="25" fill="#fff" stroke="#000"/>
<rect x="1927.5" y="380.5" width="134" height="25" fill="#fff" stroke="#000"/>
<rect x="2160.5" y="380.5" width="204" height="25" fill="#fff" stroke="#000"/>
<rect x="835.5" y="455.5" width="148" height="25" fill="#fff" stroke="#000"/>
<rect x="1157.5" y="455.5" width="144" height="25" fill="#fff" stroke="#000"/>
<rect x="1427.5" y="455.5" width="144" height="25" fill="#fff" stroke="#ff0000"/>
<rect x="1595.5" y="455.5" width="138" height="25" fill="#fff" stroke="#ff0000"/>
<rect x="1757.5" y="455.5" width="131" height="25" fill="#fff" stroke="#000"/>
<rect x="1912.5" y="455.5" width="87" height="25" fill="#fff" stroke="#ff0000"/>
<rect x="2021.5" y="455.5" width="210" height="25" fill="#fff" stroke="#000"/>
<rect x="2253.5" y="455.5" width="96" height="25" fill="#fff" stroke="#000"/>
<rect x="373.5" y="529.5" width="118" height="26" fill="#fff" stroke="#ff0000"/>
<rect x="885.5" y="529.5" width="98" height="26" fill="#fff" stroke="#000"/>
<rect x="1056.5" y="529.5" width="149" height="26" fill="#fff" stroke="#000"/>
<rect x="2356.5" y="529.5" width="168" height="26" fill="#fff" stroke="#000"/>
<rect x="271.5" y="604.5" width="142" height="25" fill="#fff" stroke="#000"/>
<rect x="565.5" y="604.5" width="146" height="25" fill="#fff" stroke="#ff0000"/>
<rect x="1432.5" y="604.5" width="147" height="25" fill="#fff" stroke="#ff0000"/>
<rect x="2413.5" y="604.5" width="130" height="25" fill="#fff" stroke="#000"/>
<rect x="157.5" y="679.5" width="148" height="25" fill="#fff" stroke="#000"/>
<rect x="379.5" y="679.5" width="178" height="25" fill="#fff" stroke="#000"/>
<rect x="1269.5" y="679.5" width="134" height="25" fill="#fff" stroke="#000"/>
<rect x="1627.5" y="679.5" width="180" height="25" fill="#fff" stroke="#000"/>
<rect x="175.5" y="753.5" width="112" height="26" fill="#fff" stroke="#000"/>
<rect x="1208.5" y="753.5" width="65" height="26" fill="#fff" stroke="#bfbfbf"/>
<rect x="1296.5" y="753.5" width="80" height="26" fill="#fff" stroke="#bfbfbf"/>
<rect x="1400.5" y="753.5" width="139" height="26" fill="#fff" stroke="#000"/>
<rect x="1883.5" y="753.5" width="177" height="26" fill="#fff" stroke="#000"/>
<rect x="173.5" y="828.5" width="115" height="25" fill="#fff" stroke="#000"/>
<rect x="736.5" y="828.5" width="195" height="25" fill="#fff" stroke="#ff0000"/>
<rect x="1752.5" y="828.5" width="183" height="25" fill="#fff" stroke="#ff0000"/>
<rect x="2008.5" y="828.5" width="175" height="25" fill="#fff" stroke="#ff0000"/>
<rect x="642.5" y="903.5" width="179" height="25" fill="#fff" stroke="#000"/>
<rect x="1056.5" y="903.5" width="180" height="25" fill="#fff" stroke="#000"/>
<rect x="1309.5" y="903.5" width="203" height="25" fill="#fff" stroke="#000"/>
<rect x="1659.5" y="903.5" width="173" height="25" fill="#fff" stroke="#000"/>
<rect x="635.5" y="977.5" width="194" height="26" fill="#fff" stroke="#ff0000"/>
<rect x="1180.5" y="977.5" width="184" height="26" fill="#fff" stroke="#000"/>
<rect x="1449.5" y="977.5" width="131" height="26" fill="#fff" stroke="#000"/>
<rect x="1281.5" y="1052.5" width="116" height="25" fill="#fff" stroke="#000"/>
<rect x="1179.5" y="1127.5" width="122" height="25" fill="#fff" stroke="#ff0000"/>
<rect x="1219.5" y="1201.5" width="142" height="26" fill="#fff" stroke="#bfbfbf"/>
</g><g>
<text transform="translate(1011.0,24.0) scale(0.92,1)">OS_NS_dirent.cpp</text>
<text transform="translate(1011.0,99.0) scale(0.92,1)">ace/OS_NS_dirent.h</text>
<text transform="translate(1011.5,173.0) scale(0.92,1)">ace/OS_NS_dirent.inl</text>
<text transform="translate(1011.0,248.0) scale(0.92,1)">ace/OS_Memory.h</text>
<text transform="translate(863.0,323.0) scale(0.92,1)">ace/OS_NS_stdlib.h</text>
<text transform="translate(2089.0,323.0) scale(0.92,1)">ace/Log_Msg.h</text>
<text transform="translate(857.0,397.0) scale(0.92,1)">ace/OS_NS_stdlib.inl</text>
<text transform="translate(1455.5,397.0) scale(0.92,1)">ace/Log_Msg.inl</text>
<text transform="translate(1742.0,397.0) scale(0.92,1)">ace/Atomic_Op.h</text>
<text transform="translate(1993.0,397.0) scale(0.92,1)">ace/Synch_Traits.h</text>
<text transform="translate(2261.0,397.0) scale(0.92,1)">ace/OS_Log_Msg_Attributes.h</text>
<text transform="translate(908.0,472.0) scale(0.92,1)">ace/Global_Macros.h</text>
<text transform="translate(1228.0,472.0) scale(0.92,1)">ace/OS_NS_string.h</text>
<text transform="translate(1498.0,472.0) scale(0.92,1)">ace/Thread_Mutex.h</text>
<text transform="translate(1663.0,472.0) scale(0.92,1)">ace/Atomic_Op_T.h</text>
<text transform="translate(1821.5,472.0) scale(0.92,1)">ace/Atomic_Op.inl</text>
<text transform="translate(1954.5,472.0) scale(0.92,1)">ace/Lock.h</text>
<text transform="translate(2125.0,472.0) scale(0.92,1)">ace/OS_Log_Msg_Attributes.inl</text>
<text transform="translate(2300.0,472.0) scale(0.92,1)">ace/iosfwd.h</text>
<text transform="translate(431.0,547.0) scale(0.92,1)">ace/OS_Errno.h</text>
<text transform="translate(933.0,547.0) scale(0.92,1)">ace/Assert.h</text>
<text transform="translate(1129.5,547.0) scale(0.92,1)">ace/OS_NS_string.inl</text>
<text transform="translate(2439.0,547.0) scale(0.92,1)">ace/Default_Constants.h</text>
<text transform="translate(341.0,621.0) scale(0.92,1)">ace/OS_NS_errno.h</text>
<text transform="translate(637.0,621.0) scale(0.92,1)">ace/OS_NS_wchar.h</text>
<text transform="translate(1504.5,621.0) scale(0.92,1)">ace/OS_NS_unistd.h</text>
<text transform="translate(2477.0,621.0) scale(0.92,1)">ace/Log_Priority.h</text>
<text transform="translate(230.0,696.0) scale(0.92,1)">ace/OS_NS_errno.inl</text>
<text transform="translate(467.0,696.0) scale(0.92,1)">ace/os_include/os_errno.h</text>
<text transform="translate(1335.0,696.0) scale(0.92,1)">ace/Basic_Types.h</text>
<text transform="translate(1716.0,696.0) scale(0.92,1)">ace/os_include/os_dirent.h</text>
<text transform="translate(230.0,771.0) scale(0.92,1)">ace/config-all.h</text>
<text transform="translate(1239.5,771.0) scale(0.92,1)">stdint.h</text>
<text transform="translate(1335.0,771.0) scale(0.92,1)">inttypes.h</text>
<text transform="translate(1468.5,771.0) scale(0.92,1)">ace/Basic_Types.inl</text>
<text transform="translate(1970.5,771.0) scale(0.92,1)">ace/os_include/os_limits.h</text>
<text transform="translate(229.5,845.0) scale(0.92,1)">ace/OS_main.h</text>
<text transform="translate(832.5,845.0) scale(0.92,1)">ace/Object_Manager_Base.h</text>
<text transform="translate(1842.5,845.0) scale(0.92,1)">ace/os_include/os_unistd.h</text>
<text transform="translate(2094.5,845.0) scale(0.92,1)">ace/os_include/os_stdio.h</text>
<text transform="translate(730.5,920.0) scale(0.92,1)">ace/os_include/os_stdlib.h</text>
<text transform="translate(1145.0,920.0) scale(0.92,1)">ace/os_include/os_string.h</text>
<text transform="translate(1409.5,920.0) scale(0.92,1)">ace/os_include/sys/os_types.h</text>
<text transform="translate(1744.5,920.0) scale(0.92,1)">ace/os_include/os_float.h</text>
<text transform="translate(731.0,995.0) scale(0.92,1)">ace/os_include/sys/os_wait.h</text>
<text transform="translate(1271.0,995.0) scale(0.92,1)">ace/os_include/os_stddef.h</text>
<text transform="translate(1513.5,995.0) scale(0.92,1)">ace/ACE_export.h</text>
<text transform="translate(1338.0,1069.0) scale(0.92,1)">ace/config-lite.h</text>
<text transform="translate(1239.0,1144.0) scale(0.92,1)">ace/ace_wchar.h</text>
<text transform="translate(1289.0,1219.0) scale(0.92,1)">ace/config-macros.h</text>
</g></svg></body></html>
